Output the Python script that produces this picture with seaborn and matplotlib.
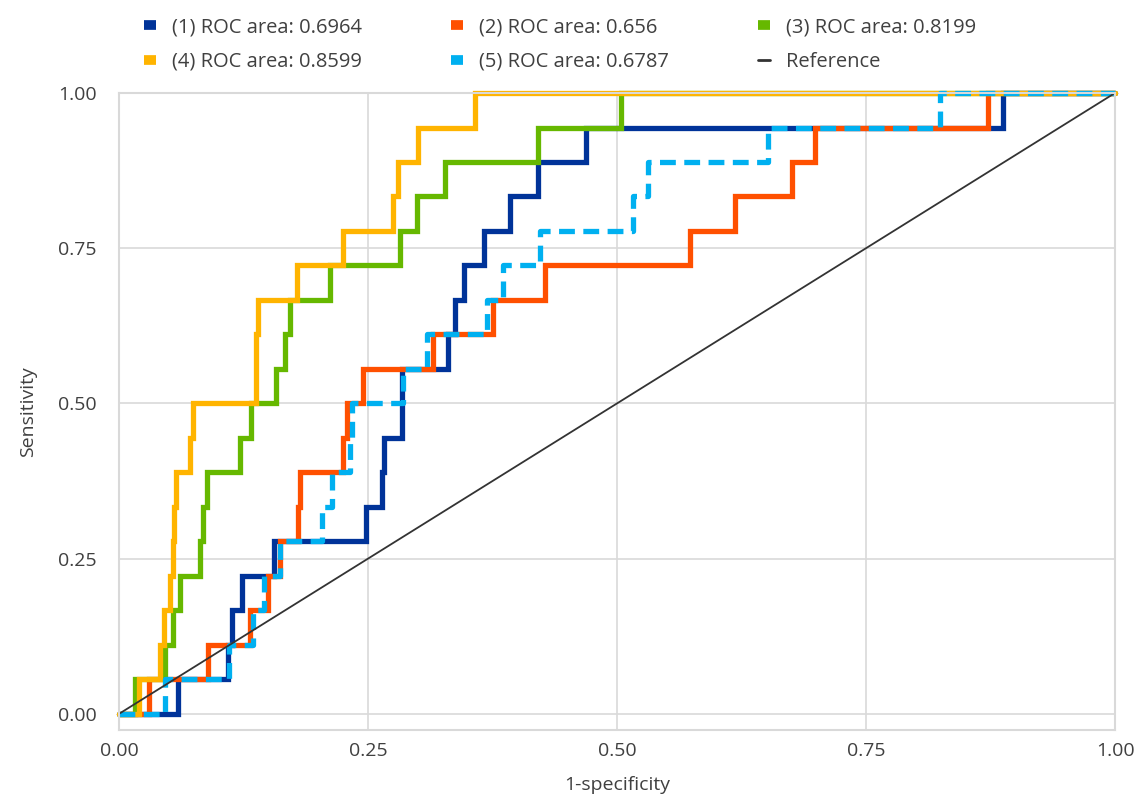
import numpy as np
import pandas as pd
import matplotlib
matplotlib.use("Agg")
import matplotlib.pyplot as plt
from matplotlib.lines import Line2D
import seaborn as sns

# ---- data (jump position in 1-specificity, sensitivity after jump)
labels = ["(1) ROC area: 0.6964", "(2) ROC area: 0.656", "(3) ROC area: 0.8199",
          "(4) ROC area: 0.8599", "(5) ROC area: 0.6787"]
colors = ["#003399", "#FF5000", "#66B800", "#FFB400", "#00B0F0"]

fpr_1 = [0.059, 0.109, 0.113, 0.123, 0.156, 0.248, 0.264, 0.266, 0.284, 0.330, 0.337,
         0.346, 0.366, 0.393, 0.421, 0.469, 0.888]
tpr_1 = [0.0556, 0.1111, 0.1667, 0.2222, 0.2778, 0.3333, 0.3889, 0.4444, 0.5556, 0.6111,
         0.6667, 0.7222, 0.7778, 0.8333, 0.8889, 0.9444, 1.0]

fpr_2 = [0.030, 0.089, 0.132, 0.150, 0.162, 0.180, 0.182, 0.225, 0.229, 0.245, 0.315,
         0.376, 0.428, 0.573, 0.618, 0.676, 0.699, 0.872]
tpr_2 = [0.0556, 0.1111, 0.1667, 0.2222, 0.2778, 0.3333, 0.3889, 0.4444, 0.5, 0.5556,
         0.6111, 0.6667, 0.7222, 0.7778, 0.8333, 0.8889, 0.9444, 1.0]

fpr_3 = [0.016, 0.046, 0.054, 0.061, 0.081, 0.084, 0.088, 0.121, 0.133, 0.158, 0.167,
         0.172, 0.212, 0.282, 0.299, 0.327, 0.421, 0.504]
tpr_3 = [0.0556, 0.1111, 0.1667, 0.2222, 0.2778, 0.3333, 0.3889, 0.4444, 0.5, 0.5556,
         0.6111, 0.6667, 0.7222, 0.7778, 0.8333, 0.8889, 0.9444, 1.0]

fpr_4 = [0.020, 0.041, 0.045, 0.051, 0.054, 0.055, 0.057, 0.071, 0.074, 0.138, 0.140,
         0.179, 0.225, 0.275, 0.280, 0.300, 0.357]
tpr_4 = [0.0556, 0.1111, 0.1667, 0.2222, 0.2778, 0.3333, 0.3889, 0.4444, 0.5, 0.6111,
         0.6667, 0.7222, 0.7778, 0.8333, 0.8889, 0.9444, 1.0]

fpr_5 = [0.046, 0.110, 0.135, 0.146, 0.162, 0.204, 0.214, 0.232, 0.234, 0.285, 0.309,
         0.369, 0.386, 0.423, 0.516, 0.531, 0.652, 0.824]
tpr_5 = [0.0556, 0.1111, 0.1667, 0.2222, 0.2778, 0.3333, 0.3889, 0.4444, 0.5, 0.5556,
         0.6111, 0.6667, 0.7222, 0.7778, 0.8333, 0.8889, 0.9444, 1.0]

ref_x = [0.0, 1.0]
ref_y = [0.0, 1.0]

ticks = [0.0, 0.25, 0.5, 0.75, 1.0]
tick_labels = ["0.00", "0.25", "0.50", "0.75", "1.00"]

# ---- build staircase vertices
def staircase(fx, ty):
    xs, ys = [0.0], [0.0]
    prev = 0.0
    for x, y in zip(fx, ty):
        xs += [x, x]
        ys += [prev, y]
        prev = y
    xs.append(1.0)
    ys.append(prev)
    return xs, ys

series = [(fpr_1, tpr_1), (fpr_2, tpr_2), (fpr_3, tpr_3), (fpr_4, tpr_4), (fpr_5, tpr_5)]
frames = []
for lab, (fx, ty) in zip(labels, series):
    xs, ys = staircase(fx, ty)
    frames.append(pd.DataFrame({"fpr": xs, "tpr": ys, "model": lab}))
df = pd.concat(frames, ignore_index=True)
ref_df = pd.DataFrame({"fpr": ref_x, "tpr": ref_y})

sns.set_theme(style="white")
plt.rcParams["font.family"] = ["Open Sans", "DejaVu Sans"]

fig = plt.figure(figsize=(11.46, 7.94), dpi=100)
ax = fig.add_axes([119 / 1146, 64 / 794, 996 / 1146, 637 / 794])

palette = dict(zip(labels, colors))
dashes = {lab: "" for lab in labels}
dashes[labels[4]] = (3.0, 1.6)

sns.lineplot(data=df, x="fpr", y="tpr", hue="model", style="model", hue_order=labels,
             style_order=labels, palette=palette, dashes=dashes, sort=False,
             estimator=None, units="model", linewidth=3.8, legend=False, ax=ax)
sns.lineplot(data=ref_df, x="fpr", y="tpr", color="#333333", linewidth=1.3,
             sort=False, estimator=None, ax=ax)

for ln in ax.lines:
    ln.set_clip_on(False)
    ln.set_solid_joinstyle("miter")
    ln.set_dash_capstyle("butt")

ax.set_xlim(0, 1)
ax.set_ylim(-0.026, 1.0)
ax.set_xticks(ticks)
ax.set_xticklabels(tick_labels)
ax.set_yticks(ticks)
ax.set_yticklabels(tick_labels)
ax.tick_params(axis="both", length=0, labelsize=14, colors="#404040")
ax.tick_params(axis="x", pad=9)
ax.tick_params(axis="y", pad=16)
ax.grid(True, color="#d9d9d9", linewidth=1.2)
ax.set_axisbelow(True)
for sp in ax.spines.values():
    sp.set_color("#d9d9d9")
    sp.set_linewidth(1.5)

ax.set_xlabel("1-specificity", fontsize=14, color="#404040", labelpad=11)
ax.set_ylabel("Sensitivity", fontsize=14, color="#404040", labelpad=15)

# legend: 2 rows x 3 columns (column-major order for matplotlib)
handles = [Line2D([], [], color=c, lw=7, solid_capstyle="butt") for c in colors]
handles.append(Line2D([], [], color="#333333", lw=2))
all_labels = labels + ["Reference"]
order = [0, 3, 1, 4, 2, 5]
leg = fig.legend([handles[i] for i in order], [all_labels[i] for i in order],
                 ncol=3, loc="upper left", bbox_to_anchor=(136 / 1146, 1 - 9 / 794),
                 frameon=False, fontsize=14.5, handlelength=0.6, handletextpad=0.8,
                 columnspacing=4.4, labelspacing=0.72, borderaxespad=0)
for t in leg.get_texts():
    t.set_color("#404040")

fig.savefig("out.png", dpi=100)
